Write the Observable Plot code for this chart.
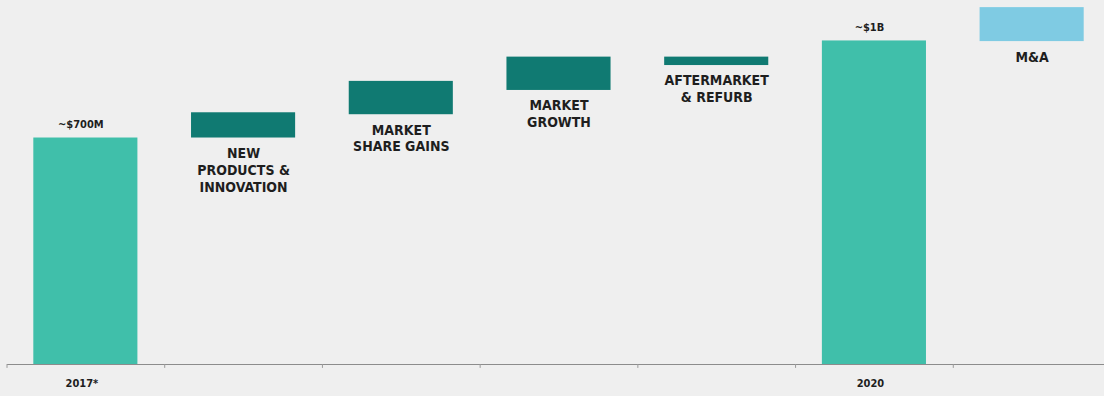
<!DOCTYPE html>
<html>
<head>
<meta charset="utf-8">
<script src="https://cdn.jsdelivr.net/npm/d3@7"></script>
<script src="https://cdn.jsdelivr.net/npm/@observablehq/plot@0.6"></script>
<style>
  html, body { margin: 0; padding: 0; background: #efefef; }
  #chart svg { display: block; background: #efefef; }
</style>
</head>
<body>
<div id="chart"></div>
<script>
// Revenue bridge, 2017 to 2020 (values in $M)
const steps = ["2017", "newProducts", "shareGains", "marketGrowth", "aftermarket", "2020", "mna"];
const stepLabels = ["", "NEW\nPRODUCTS &\nINNOVATION", "MARKET\nSHARE GAINS", "MARKET\nGROWTH", "AFTERMARKET\n& REFURB", "", "M&A"];
const axisLabels = ["2017*", "", "", "", "", "2020", ""];
const valueLabels = ["~$700M", "", "", "", "", "~$1B", ""];
const kinds = ["total", "driver", "driver", "driver", "driver", "total", "acquisition"];
const lows = [0, 700, 772, 847, 924, 0, 998];
const highs = [700, 778, 875, 950, 950, 1000, 1103];

const rows = steps.map((key, i) => ({
  key,
  kind: kinds[i],
  low: lows[i],
  high: highs[i],
  label: stepLabels[i],
  value: valueLabels[i],
  axis: axisLabels[i]
}));

const xRange = [6.5, 1110.5];
const step = (xRange[1] - xRange[0]) / steps.length;
const labelFont = '"Liberation Sans Narrow", "DejaVu Sans Condensed", "DejaVu Sans", sans-serif';

const chart = Plot.plot({
  width: 1104,
  height: 396,
  marginLeft: 7,
  marginRight: 0,
  marginTop: 0,
  marginBottom: 32,
  style: { background: "#efefef", fontFamily: labelFont },
  x: { type: "band", domain: steps, range: xRange, round: false, paddingInner: 0.34, paddingOuter: 0.17, axis: null },
  y: { domain: [0, 1125], axis: null },
  color: {
    domain: ["total", "driver", "acquisition"],
    range: ["#40bfaa", "#107a72", "#7fcbe3"]
  },
  marks: [
    // floating bars for each step of the bridge
    Plot.barY(rows, { x: "key", y1: "low", y2: "high", fill: "kind" }),
    // baseline and band boundary ticks
    Plot.ruleY([0], { stroke: "#8c8c8c", strokeWidth: 1.2 }),
    Plot.ruleX(rows, { x: "key", y1: 0, y2: -12, dx: -step / 2, stroke: "#9a9a9a" }),
    // driver names under each floating bar
    Plot.text(rows.filter(d => d.label), {
      x: "key", y: "low", text: "label",
      lineAnchor: "top", dy: 8, lineHeight: 1.2,
      fontSize: 14, fontWeight: "bold", fill: "#1e1e1e", fontFamily: labelFont
    }),
    // totals above the year bars
    Plot.text(rows.filter(d => d.value), {
      x: "key", y: "high", text: "value",
      lineAnchor: "bottom", dy: -10, dx: -5,
      fontSize: 11, fontWeight: "bold", fill: "#1e1e1e", fontFamily: labelFont
    }),
    // year labels under the axis
    Plot.text(rows.filter(d => d.axis), {
      x: "key", y: 0, text: "axis",
      lineAnchor: "top", dy: 15, dx: -4,
      fontSize: 11, fontWeight: "bold", fill: "#1e1e1e", fontFamily: labelFont
    })
  ]
});

document.getElementById("chart").append(chart);
</script>
</body>
</html>
